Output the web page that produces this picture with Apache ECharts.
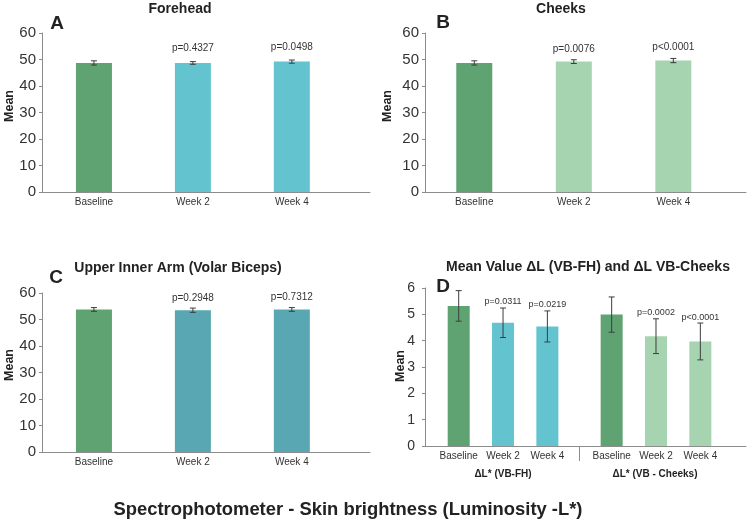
<!DOCTYPE html>
<html>
<head>
<meta charset="utf-8">
<script src="https://cdn.jsdelivr.net/npm/echarts@6/dist/echarts.min.js"></script>
<style>
  html, body { margin: 0; background: #fff; }
  #chart { width: 753px; height: 523px; }
</style>
</head>
<body>
<div id="chart"></div>
<script>
// data
const weeks = ['Baseline', 'Week 2', 'Week 4']

const foreheadMean = [48.7, 48.7, 49.2]
const foreheadErr = [0.8, 0.5, 0.6]
const foreheadP = ['', 'p=0.4327', 'p=0.0498']

const cheeksMean = [48.7, 49.2, 49.6]
const cheeksErr = [0.8, 0.7, 0.8]
const cheeksP = ['', 'p=0.0076', 'p<0.0001']

const armMean = [53.8, 53.5, 53.8]
const armErr = [0.7, 0.8, 0.7]
const armP = ['', 'p=0.2948', 'p=0.7312']

const deltaGroups = ['\u0394L* (VB-FH)', '\u0394L* (VB - Cheeks)']
const vbFhMean = [5.32, 4.68, 4.54]
const vbFhErr = [0.58, 0.56, 0.59]
const vbFhP = ['', 'p=0.0311', 'p=0.0219']
const vbCheeksMean = [4.99, 4.17, 3.97]
const vbCheeksErr = [0.67, 0.66, 0.70]
const vbCheeksP = ['', 'p=0.0002', 'p<0.0001']

const GREEN = '#5fa373'
const CYAN = '#63c4d0'
const TEAL = '#58a7b2'
const LIGHT = '#a7d4b0'
const AXIS = '#8c8c8c'
const TXT = '#333'
const FONT = '"Liberation Sans", Arial, sans-serif'
const GROUP_STEP = 3.45

const panels = [
  { grid: { left: 42, top: 33, width: 328, height: 159 }, x: [-0.525, 2.79], yMax: 60, yInt: 10,
    mean: foreheadMean, err: foreheadErr, p: foreheadP, colors: [GREEN, CYAN, CYAN],
    barWidth: 36, gap: 13, pSize: 10, ySize: 15, yMargin: 6 },
  { grid: { left: 425, top: 33, width: 321, height: 159 }, x: [-0.495, 2.73], yMax: 60, yInt: 10,
    mean: cheeksMean, err: cheeksErr, p: cheeksP, colors: [GREEN, LIGHT, LIGHT],
    barWidth: 36, gap: 11, pSize: 10, ySize: 15, yMargin: 6 },
  { grid: { left: 42, top: 293, width: 328, height: 159 }, x: [-0.525, 2.79], yMax: 60, yInt: 10,
    mean: armMean, err: armErr, p: armP, colors: [GREEN, TEAL, TEAL],
    barWidth: 36, gap: 10, pSize: 10, ySize: 15, yMargin: 6 },
]

// panel D: two groups of three bars on one axis
const dMean = vbFhMean.concat(vbCheeksMean)
const dErr = vbFhErr.concat(vbCheeksErr)
const dP = vbFhP.concat(vbCheeksP)
const dPos = dMean.map((_, i) => (i % 3) + Math.floor(i / 3) * GROUP_STEP)
const dLabels = weeks.concat(weeks)

panels.push({
  grid: { left: 425, top: 288, width: 321, height: 158 }, x: [-0.76, 6.48], yMax: 6, yInt: 1,
  mean: dMean, err: dErr, p: dP, colors: [GREEN, CYAN, CYAN, GREEN, LIGHT, LIGHT],
  barWidth: 22, gap: 6, pSize: 9, ySize: 14, yMargin: 10, pos: dPos, labels: dLabels,
  divider: [2 + (GROUP_STEP - 2) / 2]
})

const grid = [], xAxis = [], yAxis = [], series = []

panels.forEach((pn, k) => {
  const pos = pn.pos || pn.mean.map((_, i) => i)
  const labels = pn.labels || weeks
  grid.push(pn.grid)
  xAxis.push({
    type: 'value', gridIndex: k, min: pn.x[0], max: pn.x[1],
    splitLine: { show: false },
    axisLine: { onZero: false, lineStyle: { color: AXIS } },
    axisTick: pn.divider
      ? { show: true, customValues: pn.divider, length: 15, lineStyle: { color: AXIS } }
      : { show: false },
    axisLabel: {
      customValues: pos,
      formatter: (v) => {
        let best = 0
        pos.forEach((q, i) => { if (Math.abs(q - v) < Math.abs(pos[best] - v)) best = i })
        return labels[best]
      },
      color: TXT, fontSize: 10, fontFamily: FONT, margin: 5
    }
  })
  yAxis.push({
    type: 'value', gridIndex: k, min: 0, max: pn.yMax, interval: pn.yInt,
    splitLine: { show: false },
    axisLine: { show: true, onZero: false, lineStyle: { color: AXIS } },
    axisTick: { show: true, length: 3, lineStyle: { color: AXIS } },
    axisLabel: { color: TXT, fontSize: pn.ySize, fontFamily: FONT, margin: pn.yMargin }
  })
  series.push({
    type: 'bar', xAxisIndex: k, yAxisIndex: k, barWidth: pn.barWidth,
    data: pn.mean.map((v, i) => ({ value: [pos[i], v], itemStyle: { color: pn.colors[i] } })),
    silent: true
  })
  series.push({
    type: 'custom', xAxisIndex: k, yAxisIndex: k, clip: false, silent: true, z: 5,
    data: pn.mean.map((v, i) => [pos[i], v]),
    renderItem: (params, api) => {
      const i = params.dataIndex
      const x = pos[i]
      const top = api.coord([x, pn.mean[i] + pn.err[i]])
      const bot = api.coord([x, pn.mean[i] - pn.err[i]])
      const ls = { stroke: '#3d3d3d', lineWidth: 1 }
      const c = 3
      const children = [
        { type: 'line', shape: { x1: top[0], y1: top[1], x2: bot[0], y2: bot[1] }, style: ls },
        { type: 'line', shape: { x1: top[0] - c, y1: top[1], x2: top[0] + c, y2: top[1] }, style: ls },
        { type: 'line', shape: { x1: bot[0] - c, y1: bot[1], x2: bot[0] + c, y2: bot[1] }, style: ls }
      ]
      if (pn.p[i]) {
        children.push({ type: 'text', style: {
          text: pn.p[i], x: top[0], y: top[1] - pn.gap,
          align: 'center', verticalAlign: 'middle',
          fill: TXT, fontSize: pn.pSize, fontFamily: FONT } })
      }
      return { type: 'group', children }
    }
  })
})

function txt(text, x, y, size, opts) {
  return Object.assign({
    type: 'text', x, y, silent: true,
    style: { text, fill: '#222', fontSize: size, fontWeight: 'bold', fontFamily: FONT,
      align: 'center', verticalAlign: 'middle' }
  }, opts || {})
}
const up = { rotation: Math.PI / 2 }

const graphic = [
  txt('Forehead', 180, 9, 14),
  txt('A', 57, 24, 19),
  txt('Cheeks', 561, 9, 14),
  txt('B', 443, 23, 19),
  txt('Upper Inner Arm (Volar Biceps)', 178, 268, 14),
  txt('C', 56, 278, 19),
  txt('Mean Value \u0394L (VB-FH) and \u0394L VB-Cheeks', 588, 267, 14),
  txt('D', 443, 287, 19),
  txt('Mean', 10, 106, 12.5, up),
  txt('Mean', 388, 106, 12.5, up),
  txt('Mean', 10, 365, 12.5, up),
  txt('Mean', 401, 366, 12.5, up),
  txt(deltaGroups[0], 503, 474, 10),
  txt(deltaGroups[1], 655, 474, 10),
  txt('Spectrophotometer - Skin brightness (Luminosity -L*)', 348, 510, 18.4)
]

const chart = echarts.init(document.getElementById('chart'))
chart.setOption({
  animation: false,
  backgroundColor: '#fff',
  grid, xAxis, yAxis, series, graphic
})
</script>
</body>
</html>
